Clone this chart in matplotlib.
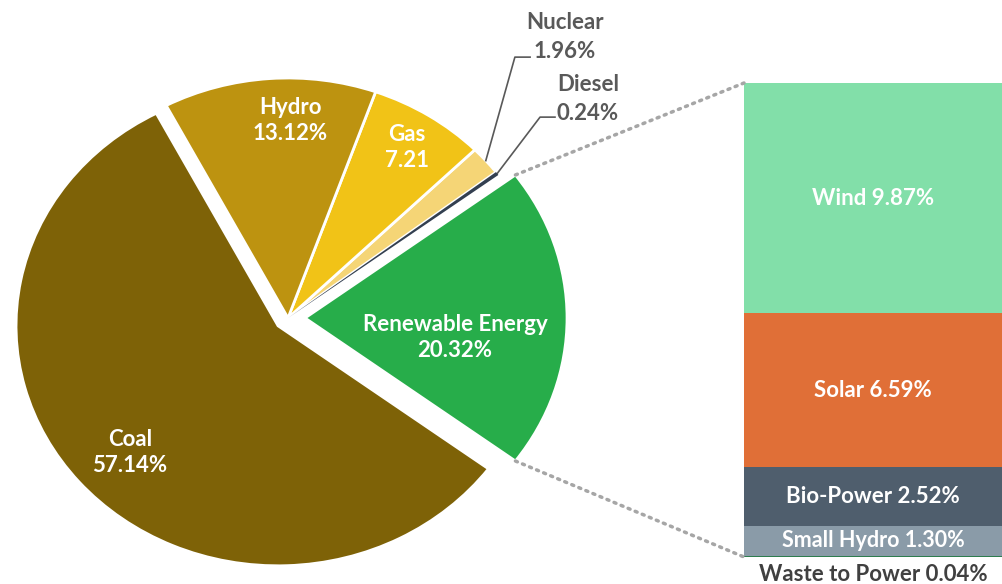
import numpy as np
import matplotlib
matplotlib.use("Agg")
import matplotlib.pyplot as plt
from matplotlib.patches import ConnectionPatch

plt.rcParams['font.family'] = ['Lato', 'DejaVu Sans']

# pie data (counter-clockwise from the renewable slice)
labels = ["Renewable Energy", "Diesel", "Nuclear", "Gas", "Hydro", "Coal"]
shares = [20.32, 0.24, 1.96, 7.21, 13.12, 57.14]
texts = ["Renewable Energy\n20.32%", "", "", "Gas\n7.21", "Hydro\n13.12%", "Coal\n57.14%"]
colors = ["#27ad4a", "#333f50", "#f5d576", "#f1c317", "#bd9310", "#7e6207"]
explode = [0.065, 0, 0, 0, 0, 0.05]

# breakdown of renewable energy (bottom to top)
re_names = ["Waste to Power", "Small Hydro", "Bio-Power", "Solar", "Wind"]
re_vals = [0.04, 1.30, 2.52, 6.59, 9.87]
re_colors = ["#2e7d4f", "#8a9ba8", "#4f5e6d", "#e06f37", "#82dfa9"]

W, H = 1002, 584
fig = plt.figure(figsize=(W / 100, H / 100), dpi=100)

# pie axes on the whole figure, slightly wider than tall like the source
cx, cy, rx, ry = 288, 318, 262, 240
ax = fig.add_axes([0, 0, 1, 1])

start = -shares[0] / 100 * 360 / 2
wedges, _ = ax.pie(shares, colors=colors, explode=explode, startangle=start,
                   counterclock=True, radius=1,
                   wedgeprops=dict(edgecolor="white", linewidth=2))
wedges[1].set_linewidth(0)
wedges[1].set_zorder(5)
ax.set_xlim(-cx / rx, (W - cx) / rx)
ax.set_ylim(-(H - cy) / ry, cy / ry)
ax.set_aspect('auto')
ax.axis('off')

fs = 16
txt_pos = {"Renewable Energy": (0.637, -0.08), "Gas": (0.454, 0.71),
           "Hydro": (0.008, 0.822), "Coal": (-0.603, -0.56)}
for name, t in zip(labels, texts):
    if name in txt_pos:
        ax.text(*txt_pos[name], t, ha='center', va='center', color='white',
                fontsize=fs, fontweight='bold', linespacing=1.3)

# outside labels with elbow leader lines
def edge_point(w):
    mid = np.deg2rad((w.theta1 + w.theta2) / 2)
    return w.center[0] + w.r * np.cos(mid), w.center[1] + w.r * np.sin(mid)

outside = [(wedges[2], "Nuclear\n1.96%", (0.866, 1.087), (0.924, 1.087), (1.057, 1.17)),
           (wedges[1], "Diesel\n0.24%", (0.962, 0.837), (1.019, 0.837), (1.145, 0.912))]
for w, t, elbow, end, tpos in outside:
    p = edge_point(w)
    ax.plot([p[0], elbow[0], end[0]], [p[1], elbow[1], end[1]], color="#595959", lw=1.2)
    ax.text(*tpos, t, ha='center', va='center', color="#595959",
            fontsize=fs, fontweight='bold', linespacing=1.5)

# stacked bar for the renewable breakdown
bx = fig.add_axes([744 / W, (H - 557) / H, (W - 744) / W, (557 - 83) / H])
total = sum(re_vals)
bottom = 0
for name, v, c in zip(re_names, re_vals, re_colors):
    bx.bar(0, v, bottom=bottom, width=1, color=c, edgecolor='none')
    if v > 1:
        bx.text(0, bottom + v / 2, f"{name} {v:.2f}%", ha='center', va='center',
                color='white', fontsize=fs if v > 2 else fs - 0.5, fontweight='bold')
    bottom += v
bx.set_xlim(-0.5, 0.5)
bx.set_ylim(0, total)
bx.axis('off')
bx.text(0, -0.75, f"{re_names[0]} {re_vals[0]:.2f}%", ha='center', va='center',
        color="#404040", fontsize=fs, fontweight='bold')

# dotted connectors from the renewable wedge to the bar
rw = wedges[0]
for ang, yb in [(rw.theta2, total), (rw.theta1, 0)]:
    a = np.deg2rad(ang)
    p = (rw.center[0] + np.cos(a), rw.center[1] + np.sin(a))
    con = ConnectionPatch(xyA=p, coordsA=ax.transData, xyB=(-0.5, yb), coordsB=bx.transData,
                          color="#a6a6a6", lw=2.5, linestyle=(0, (0.6, 1.6)))
    fig.add_artist(con)

fig.savefig("out.png", dpi=100)
